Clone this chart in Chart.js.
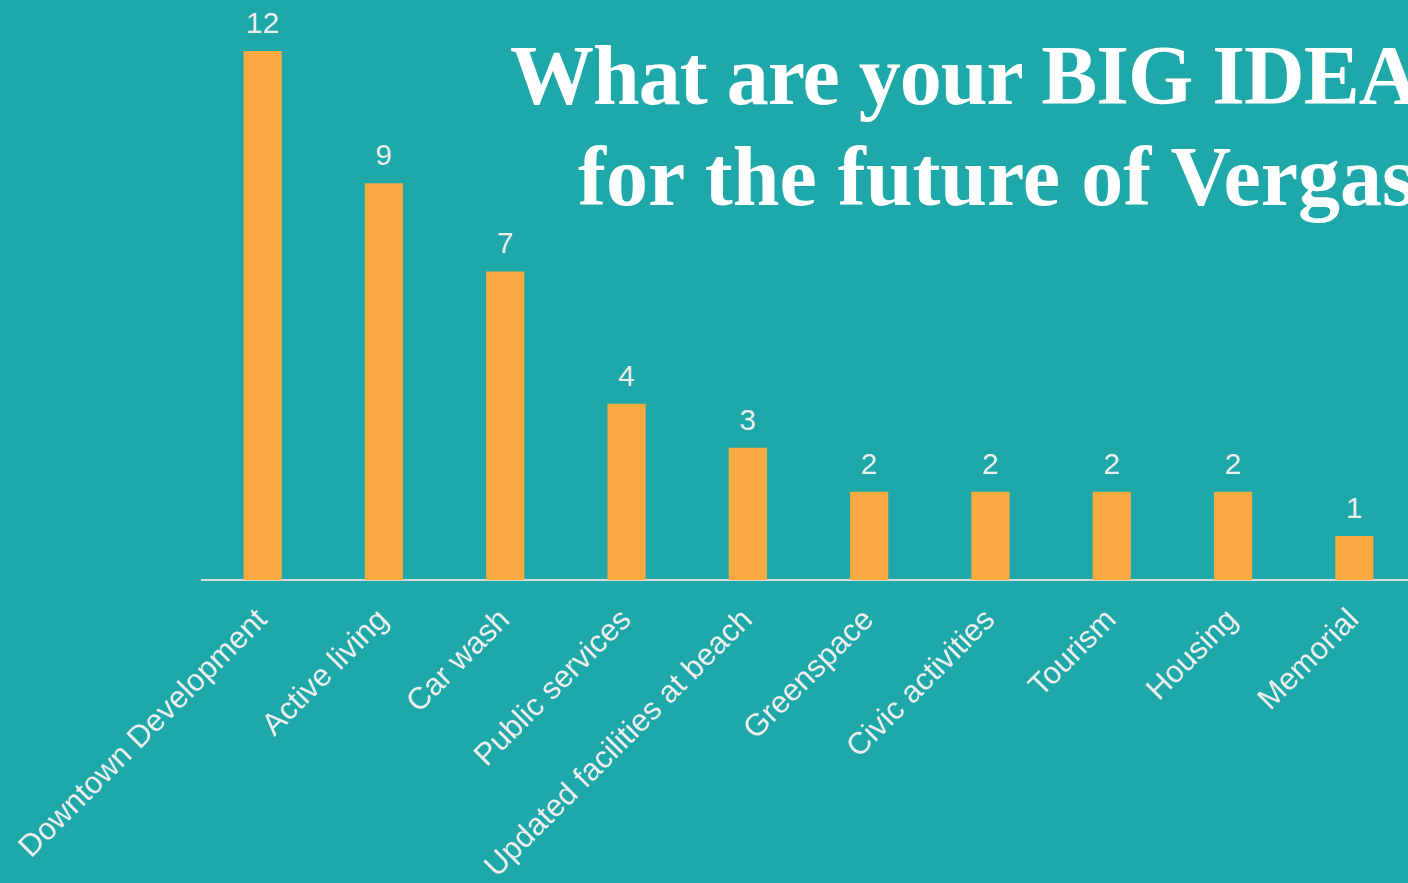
<!DOCTYPE html>
<html>
<head>
<meta charset="utf-8">
<script src="https://cdn.jsdelivr.net/npm/chart.js@4.4.0/dist/chart.umd.min.js"></script>
<style>
  html, body { margin: 0; padding: 0; width: 1408px; height: 883px; overflow: hidden; background: #1EA8A9; }
  #wrap { position: absolute; left: 0; top: 0; width: 1420px; height: 883px; }
  .title { position: absolute; white-space: nowrap; color: #ffffff; font-family: "Liberation Serif", "DejaVu Serif", serif; font-weight: bold; font-size: 84px; line-height: 84px; }
</style>
</head>
<body>
<div id="wrap"><canvas id="c" width="1420" height="883"></canvas></div>
<div class="title" id="t1" style="left:510px; top:34px; letter-spacing:-1px;">What are your BIG IDEAS</div>
<div class="title" id="t2" style="left:578px; top:135px; letter-spacing:0px;">for the future of Vergas?</div>
<script>
const categories = ["Downtown Development", "Active living", "Car wash", "Public services", "Updated facilities at beach", "Greenspace", "Civic activities", "Tourism", "Housing", "Memorial"];
const counts = [12, 9, 7, 4, 3, 2, 2, 2, 2, 1];
const yMax = 12;

const valueLabels = {
  id: 'valueLabels',
  afterDatasetsDraw(chart) {
    const ctx = chart.ctx;
    const meta = chart.getDatasetMeta(0);
    ctx.save();
    ctx.fillStyle = '#EEEEEE';
    ctx.font = '30px "Liberation Sans", Arial, sans-serif';
    ctx.textAlign = 'center';
    ctx.textBaseline = 'alphabetic';
    meta.data.forEach((bar, i) => {
      ctx.fillText(String(chart.data.datasets[0].data[i]), bar.x, bar.y - 18);
    });
    ctx.restore();
  }
};

new Chart(document.getElementById('c'), {
  type: 'bar',
  data: {
    labels: categories,
    datasets: [{
      data: counts,
      backgroundColor: '#FBAA42',
      borderWidth: 0,
      categoryPercentage: 0.35,
      barPercentage: 0.9
    }]
  },
  options: {
    responsive: false,
    animation: false,
    layout: { padding: { left: 202, top: 51, right: 5, bottom: 0 } },
    plugins: { legend: { display: false }, tooltip: { enabled: false } },
    scales: {
      y: { display: false, min: 0, max: yMax },
      x: {
        grid: { display: false },
        border: { display: true, color: '#D9D9D9', width: 2 },
        ticks: {
          color: '#EEEEEE',
          font: { family: '"Liberation Sans", Arial, sans-serif', size: 31 },
          maxRotation: 45, minRotation: 45, autoSkip: false, padding: 14
        },
        afterFit(scale) { scale.height = 303; scale.paddingLeft = 0; scale.paddingRight = 0; }
      }
    }
  },
  plugins: [valueLabels]
});
</script>
</body>
</html>
